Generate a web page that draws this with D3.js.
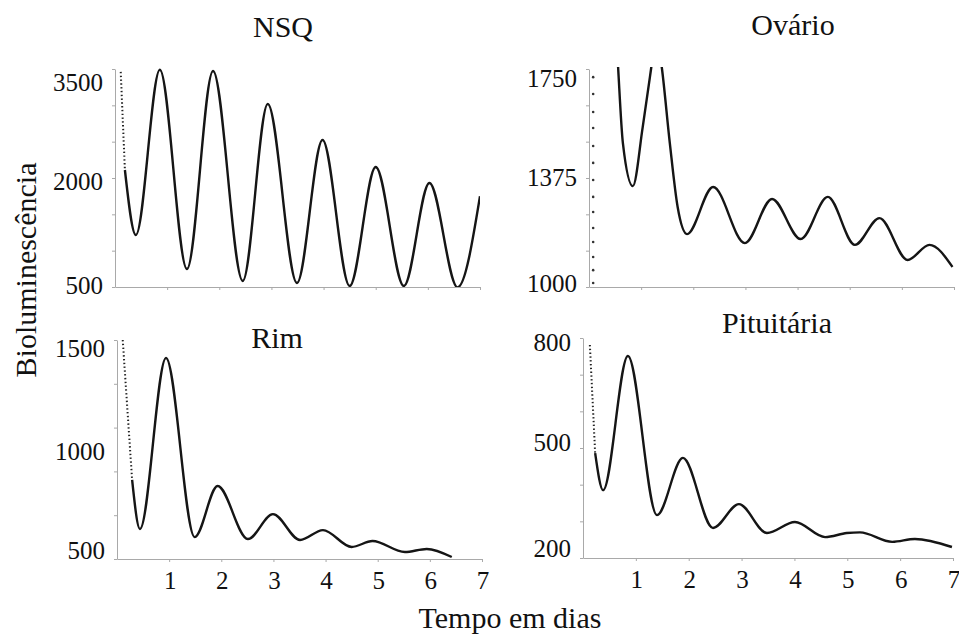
<!DOCTYPE html>
<html>
<head>
<meta charset="utf-8">
<script src="https://cdn.jsdelivr.net/npm/d3@7"></script>
<style>
  body { margin: 0; background: #fff; }
  svg text { font-family: 'Liberation Serif', 'DejaVu Serif', 'Times New Roman', Times, serif; fill: #111; }
  .tick-label { font-size: 25px; }
  .title { font-size: 30px; }
  .axis-title { font-size: 30px; }
  .axis path, .axis line { stroke: #a9a9a9; stroke-width: 1; }
  .curve { fill: none; stroke: #151515; stroke-width: 2.4; stroke-linejoin: round; }
  .curve-start { fill: none; stroke: #222; stroke-width: 2; stroke-dasharray: 1.4 2.4; }
</style>
</head>
<body>
<svg width="959" height="639" font-family="Liberation Serif, DejaVu Serif, serif"></svg>
<script>
// values (days, bioluminescence)
const nsqDays = [0.11, 0.19, 0.40, 0.86, 1.38, 1.88, 2.45, 2.93, 3.49, 3.98, 4.50, 5.00, 5.54, 6.03, 6.57, 7.00]
const nsqValues = [3460, 2110, 1215, 3490, 747, 3472, 583, 3018, 555, 2523, 514, 2151, 514, 1931, 495, 1750]

const ovarioDays = [0.50, 0.56, 0.65, 0.84, 1.03, 1.19, 1.29, 1.40, 1.55, 1.70, 1.88, 2.38, 2.99, 3.51, 4.06, 4.58, 5.10, 5.57, 6.11, 6.53, 6.97]
const ovarioValues = [1950, 1750, 1495, 1347, 1550, 1750, 1880, 1750, 1495, 1275, 1182, 1344, 1151, 1303, 1165, 1310, 1145, 1237, 1093, 1145, 1069]
// the loose column of dots at the very start of the ovary record
const ovarioDotDay = 0.08
const ovarioDotValues = [1722, 1664, 1602, 1547, 1485, 1427, 1368, 1310, 1258, 1203, 1155, 1103, 1058, 1014]

const rimDays = [0.11, 0.29, 0.44, 0.94, 1.49, 1.93, 2.51, 2.99, 3.51, 3.95, 4.50, 4.90, 5.52, 5.94, 6.42]
const rimValues = [1500, 861, 637, 1418, 600, 833, 591, 705, 587, 632, 555, 582, 532, 546, 509]

const pitDays = [0.13, 0.23, 0.38, 0.85, 1.40, 1.89, 2.46, 2.95, 3.48, 4.01, 4.58, 4.99, 5.24, 5.85, 6.28, 6.98]
const pitValues = [781, 486, 385, 751, 317, 473, 282, 347, 268, 298, 257, 268, 270, 244, 252, 230]

// tick labels
const dayTicks = [1, 2, 3, 4, 5, 6, 7]
const nsqLabels = [500, 2000, 3500]
const ovarioLabels = [1000, 1375, 1750]
const rimLabels = [500, 1000, 1500]
const pitLabels = [200, 500, 800]

const svg = d3.select('svg')
const defs = svg.append('defs')

const panels = [
  {id: 'nsq', title: 'NSQ', days: nsqDays, values: nsqValues,
   yDomain: [500, 3500], yTicks: d3.range(500, 3501, 500), yLabels: nsqLabels,
   box: {left: 115, right: 480, top: 69, bottom: 287}, titlePos: [283, 37],
   nudge: [-2, 3, 13], showDays: false, dotted: 2},
  {id: 'ov', title: 'Ovário', days: ovarioDays, values: ovarioValues,
   yDomain: [1000, 1750], yTicks: d3.range(1000, 1751, 125), yLabels: ovarioLabels,
   box: {left: 589, right: 954, top: 69, bottom: 287}, titlePos: [793, 35],
   nudge: [-4, -1, 9], showDays: false, dotted: 0},
  {id: 'rim', title: 'Rim', days: rimDays, values: rimValues,
   yDomain: [500, 1500], yTicks: d3.range(500, 1501, 200), yLabels: rimLabels,
   box: {left: 117, right: 482, top: 340, bottom: 559}, titlePos: [277, 348],
   nudge: [-9, 2, 8], showDays: true, dotted: 2},
  {id: 'pit', title: 'Pituitária', days: pitDays, values: pitValues,
   yDomain: [200, 800], yTicks: d3.range(200, 801, 100), yLabels: pitLabels,
   box: {left: 583, right: 953, top: 338, bottom: 558}, titlePos: [777, 333],
   nudge: [-10, -6, 4], showDays: true, dotted: 2}
]

const render = p => {
  const b = p.box
  const x = d3.scaleLinear().domain([0, 7]).range([b.left, b.right])
  const y = d3.scaleLinear().domain(p.yDomain).range([b.bottom, b.top])
  const g = svg.append('g')

  // plot area clip, so the big first peaks get cut at the top
  defs.append('clipPath').attr('id', 'clip-' + p.id)
    .append('rect')
      .attr('x', b.left).attr('y', b.top - 2)
      .attr('width', b.right - b.left).attr('height', b.bottom - b.top + 2)

  g.append('g').attr('class', 'axis')
    .attr('transform', `translate(${b.left},0)`)
    .call(d3.axisLeft(y).tickValues(p.yTicks).tickSize(3).tickSizeOuter(0).tickFormat(''))

  g.append('g').attr('class', 'axis')
    .attr('transform', `translate(0,${b.bottom})`)
    .call(d3.axisBottom(x).tickValues(dayTicks).tickSize(3).tickSizeOuter(0).tickFormat(''))

  // y labels are nudged a bit like in the original figure
  g.selectAll('.ylab').data(p.yLabels)
    .join('text')
      .attr('class', 'tick-label ylab')
      .attr('x', b.left - 12)
      .attr('y', (d, i) => y(d) + p.nudge[i])
      .attr('text-anchor', 'end')
      .attr('dominant-baseline', 'central')
      .text(d => d)

  if (p.showDays) {
    g.selectAll('.xlab').data(dayTicks)
      .join('text')
        .attr('class', 'tick-label xlab')
        .attr('x', d => x(d) + 1)
        .attr('y', b.bottom + 21)
        .attr('text-anchor', 'middle')
        .attr('dominant-baseline', 'central')
        .text(d => d)
  }

  g.append('text')
    .attr('class', 'title')
    .attr('x', p.titlePos[0])
    .attr('y', p.titlePos[1])
    .attr('text-anchor', 'middle')
    .text(p.title)

  const pts = p.days.map((d, i) => [d, p.values[i]])
  const line = d3.line()
    .x(d => x(d[0]))
    .y(d => y(d[1]))
    .curve(d3.curveMonotoneX)

  const plot = g.append('g').attr('clip-path', `url(#clip-${p.id})`)

  // the steep start of the record shows up as loose dots
  if (p.dotted > 0) {
    plot.append('path')
      .attr('class', 'curve-start')
      .attr('d', d3.line().x(d => x(d[0])).y(d => y(d[1]))(pts.slice(0, p.dotted)))
  }
  plot.append('path')
    .attr('class', 'curve')
    .attr('d', line(pts.slice(Math.max(p.dotted - 1, 0))))

  if (p.id === 'ov') {
    plot.selectAll('circle').data(ovarioDotValues)
      .join('circle')
        .attr('cx', x(ovarioDotDay))
        .attr('cy', d => y(d))
        .attr('r', 1.3)
        .attr('fill', '#333')
  }
}

panels.forEach(render)

// shared axis titles
svg.append('text')
  .attr('class', 'axis-title')
  .attr('transform', 'translate(25,270) rotate(-90)')
  .attr('text-anchor', 'middle')
  .attr('dominant-baseline', 'central')
  .text('Bioluminescência')

svg.append('text')
  .attr('class', 'axis-title')
  .attr('x', 510)
  .attr('y', 628)
  .attr('text-anchor', 'middle')
  .text('Tempo em dias')
</script>
</body>
</html>
